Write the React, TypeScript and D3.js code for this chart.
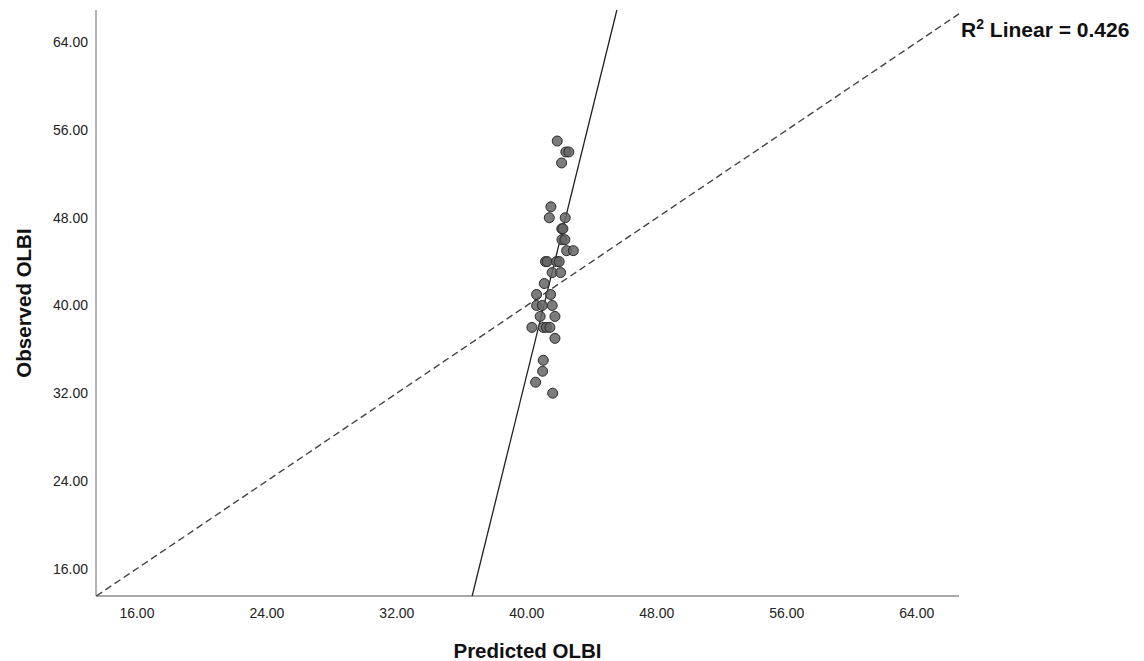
import React from "react";
import * as d3 from "d3";

const xTicks = [16, 24, 32, 40, 48, 56, 64];
const yTicks = [16, 24, 32, 40, 48, 56, 64];

const predicted = [
  41.87, 42.4, 42.58, 42.14, 41.48, 41.38, 42.36, 42.15, 42.22, 42.16, 42.34,
  42.45, 42.86, 41.15, 41.25, 41.83, 41.99, 41.56, 42.08, 41.07, 40.6, 41.46,
  40.6, 40.95, 41.56, 40.82, 41.73, 40.31, 41.01, 41.21, 41.42, 41.73, 41.01,
  40.97, 40.54, 41.59,
];
const observed = [
  55, 54, 54, 53, 49, 48, 48, 47, 47, 46, 46, 45, 45, 44, 44, 44, 44, 43, 43,
  42, 41, 41, 40, 40, 40, 39, 39, 38, 38, 38, 38, 37, 35, 34, 33, 32,
];

const fitIntercept = -206.3;
const fitSlope = 6.0;
const r2Text = "0.426";

const xDomain = [13.48, 66.6];
const yDomain = [13.5, 66.95];

export default function App() {
  const W = 1144;
  const H = 661;
  const left = 96;
  const right = 959;
  const top = 10;
  const bottom = 596;

  const x = d3.scaleLinear().domain(xDomain).range([left, right]);
  const y = d3.scaleLinear().domain(yDomain).range([bottom, top]);

  const font = "'Liberation Sans', Arial, sans-serif";

  const fx0 = (yDomain[0] - fitIntercept) / fitSlope;
  const fx1 = (yDomain[1] - fitIntercept) / fitSlope;

  const line = d3.line<[number, number]>().x((d) => x(d[0])).y((d) => y(d[1]));

  const dMin = Math.max(xDomain[0], yDomain[0]);
  const dMax = Math.min(xDomain[1], yDomain[1]);

  const pts = predicted.map((p, i) => [p, observed[i]] as [number, number]);

  return (
    <svg
      width={W}
      height={H}
      style={{ position: "absolute", left: 0, top: 0, background: "#fff" }}
      fontFamily={font}
    >
      <rect x={0} y={0} width={W} height={H} fill="#fff" />
      <line x1={left} x2={left} y1={top} y2={bottom} stroke="#8c8c8c" strokeWidth={1.3} />
      <line x1={left} x2={right} y1={bottom} y2={bottom} stroke="#8c8c8c" strokeWidth={1.3} />

      {xTicks.map((t) => (
        <text
          key={"x" + t}
          x={x(t)}
          y={618}
          textAnchor="middle"
          fontSize={14}
          fill="#222"
        >
          {t.toFixed(2)}
        </text>
      ))}
      {yTicks.map((t) => (
        <text
          key={"y" + t}
          x={left - 8}
          y={y(t) + 5}
          textAnchor="end"
          fontSize={14}
          fill="#222"
        >
          {t.toFixed(2)}
        </text>
      ))}

      <path
        d={line([
          [dMin, dMin],
          [dMax, dMax],
        ]) || ""}
        stroke="#444"
        strokeWidth={1.4}
        strokeDasharray="7,4"
        fill="none"
      />

      <path
        d={line([
          [fx0, yDomain[0]],
          [fx1, yDomain[1]],
        ]) || ""}
        stroke="#222"
        strokeWidth={1.3}
        fill="none"
      />

      {pts.map((d, i) => (
        <circle
          key={i}
          cx={x(d[0])}
          cy={y(d[1])}
          r={5}
          fill="#656565"
          fillOpacity={0.85}
          stroke="#2a2a2a"
          strokeWidth={1}
        />
      ))}

      <text x={961} y={37} fontSize={21} fontWeight="bold" fill="#111">
        R<tspan dy={-8} fontSize={14}>2</tspan>
        <tspan dy={8}> Linear = {r2Text}</tspan>
      </text>

      <text
        x={(left + right) / 2}
        y={658}
        textAnchor="middle"
        fontSize={20.5}
        fontWeight="bold"
        fill="#111"
      >
        Predicted OLBI
      </text>
      <text
        transform={`translate(31, ${(top + bottom) / 2}) rotate(-90)`}
        textAnchor="middle"
        fontSize={20.5}
        fontWeight="bold"
        fill="#111"
      >
        Observed OLBI
      </text>
    </svg>
  );
}
